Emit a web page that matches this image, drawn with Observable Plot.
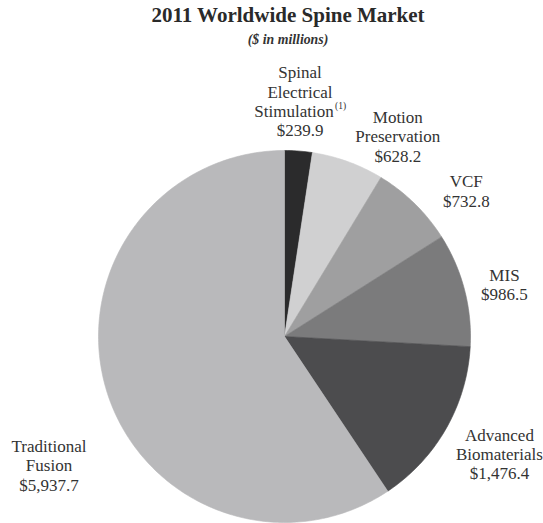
<!DOCTYPE html>
<html>
<head>
<meta charset="utf-8">
<script src="https://cdn.jsdelivr.net/npm/d3@7"></script>
<script src="https://cdn.jsdelivr.net/npm/@observablehq/plot@0.6"></script>
<style>
  html, body { margin: 0; padding: 0; background: #fff; }
  svg { display: block; }
  svg text { font-family: "Liberation Serif", "Times New Roman", serif; }
</style>
</head>
<body>
<div id="chart"></div>
<script>
// ---- data ----
const segments = ["Spinal Electrical Stimulation", "Motion Preservation", "VCF", "MIS", "Advanced Biomaterials", "Traditional Fusion"];
const labelTexts = ["Spinal\nElectrical\nStimulation", "Motion\nPreservation", "VCF", "MIS", "Advanced\nBiomaterials", "Traditional\nFusion"];
const footnoteMarks = ["(1)", "", "", "", "", ""];
const values = [239.9, 628.2, 732.8, 986.5, 1476.4, 5937.7];
const valueLabels = ["$239.9", "$628.2", "$732.8", "$986.5", "$1,476.4", "$5,937.7"];
const title = "2011 Worldwide Spine Market";
const subtitle = "($ in millions)";

// ---- styles ----
const colors = ["#2b2b2c", "#d0d0d1", "#9f9fa0", "#7b7b7c", "#4c4c4e", "#b9b9bb"];
const labelNudge = [[-2, -3], [34, 19], [19, 21], [-5, 7], [13, 3], [-13, 62]];
const W = 543, H = 523, cx = 284, cy = 336, R = 186;
const serif = "Liberation Serif, Times New Roman, serif";
const labelSize = 17, lineStep = 19.2, supWidth = 12;

// ---- pie geometry via d3.pie ----
const arcs = d3.pie().sort(null).startAngle(0).endAngle(2 * Math.PI)(values);
const polyPoints = [];
arcs.forEach((a, i) => {
  const name = segments[i];
  polyPoints.push({name, x: 0, y: 0});
  const n = Math.max(2, Math.ceil((a.endAngle - a.startAngle) / (Math.PI / 180)));
  for (let k = 0; k <= n; k++) {
    const t = a.startAngle + (a.endAngle - a.startAngle) * k / n;
    polyPoints.push({name, x: Math.sin(t), y: Math.cos(t)});
  }
  polyPoints.push({name, x: 0, y: 0});
});

// ---- labels: one text mark per line so a footnote can follow its line ----
const labelMarks = [];
arcs.forEach((a, i) => {
  const mid = (a.startAngle + a.endAngle) / 2;
  const anchor = {x: 1.25 * Math.sin(mid), y: 1.25 * Math.cos(mid)};
  const lines = labelTexts[i].split("\n");
  const supLine = footnoteMarks[i] ? lines.length - 1 : -1;
  lines.push(valueLabels[i]);
  const n = lines.length;
  lines.forEach((line, k) => {
    const dy = labelNudge[i][1] + (k - (n - 1) / 2) * lineStep;
    const shift = k === supLine ? -supWidth / 2 : 0;
    labelMarks.push(Plot.text([{...anchor, t: line}], {
      x: "x", y: "y", text: "t",
      dx: labelNudge[i][0] + shift, dy,
      textAnchor: "middle", lineAnchor: "middle",
      fontSize: labelSize, fill: "#333", fontFamily: serif
    }));
    if (k === supLine) {
      labelMarks.push(Plot.text([{...anchor, t: footnoteMarks[i]}], {
        x: "x", y: "y", text: "t",
        dx: labelNudge[i][0] + shift + 41, dy: dy - 5,
        textAnchor: "start", lineAnchor: "middle",
        fontSize: 9.5, fill: "#333", fontFamily: serif
      }));
    }
  });
});

const chart = Plot.plot({
  width: W, height: H,
  margin: 0,
  style: {background: "#fff", fontFamily: serif},
  x: {domain: [-1, 1], range: [cx - R, cx + R], axis: null},
  y: {domain: [-1, 1], range: [cy + R, cy - R], axis: null},
  color: {domain: segments, range: colors},
  marks: [
    Plot.line(polyPoints, {x: "x", y: "y", z: "name", fill: "name", stroke: "name", strokeWidth: 0.6, curve: "linear-closed"}),
    ...labelMarks,
    Plot.text([title], {frameAnchor: "top", dx: 16, dy: 7, lineAnchor: "top", fontSize: 21, fontWeight: "bold", fill: "#2a2a2a", fontFamily: serif}),
    Plot.text([subtitle], {frameAnchor: "top", dx: 16, dy: 34, lineAnchor: "top", fontSize: 13.8, fontWeight: "bold", fontStyle: "italic", fill: "#333", fontFamily: serif})
  ]
});
document.getElementById("chart").appendChild(chart);
</script>
</body>
</html>
